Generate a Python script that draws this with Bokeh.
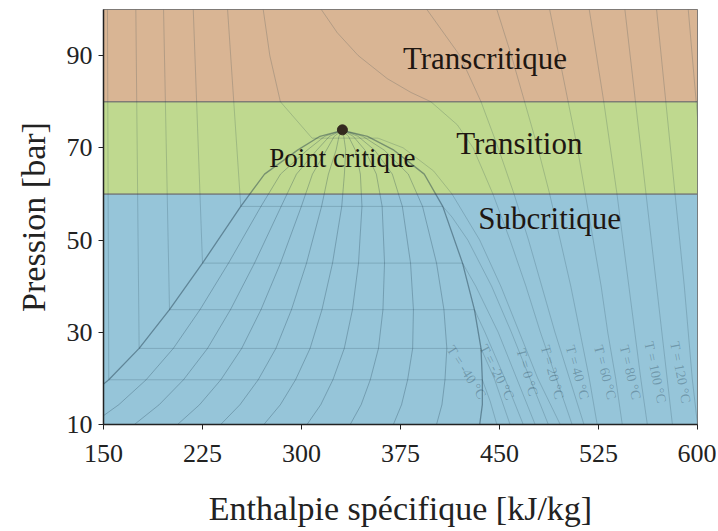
import numpy as np
from bokeh.plotting import figure
from bokeh.models import FixedTicker, ColumnDataSource
from bokeh.core.properties import value
from bokeh.embed import file_html
from bokeh.resources import INLINE

# ---------------- data ----------------
x_ticks = [150, 225, 300, 375, 450, 525, 600]
y_ticks = [10, 30, 50, 70, 90]

band_names = ["Subcritique", "Transition", "Transcritique"]
band_bottom = [10, 60, 80]
band_top = [60, 80, 100]
band_colors = ["#96c5d9", "#bfd98f", "#d9b594"]
band_label_h = [488, 465, 439]
band_label_P = [54.6, 70.9, 89.3]

# saturation dome (pressure in bar, enthalpy in kJ/kg)
sat_P = [10.0, 14.3, 19.7, 26.5, 34.9, 45.0, 57.3, 64.3, 69.5, 72.5, 73.8]
sat_hl = [108, 131, 154, 177, 200, 225, 254, 272, 297, 314, 331]
sat_hv = [435, 437, 437, 436, 431, 422, 407, 393, 370, 350, 331]
qualities = [0.1, 0.2, 0.3, 0.4, 0.5, 0.6, 0.7, 0.8, 0.9]

crit_h = [331]
crit_P = [73.9]

# isotherms
iso_T = [-20, -10, 0, 10, 20, 30, 40, 50, 60, 80, 100, 120, 140, 160]
iso_h = [
    [153, 154, 437, 443, 448],
    [174.5, 177, 436, 446, 458],
    [195.5, 200, 431, 439, 454, 468],
    [218, 225, 422, 432, 449, 463, 477],
    [244, 254, 407, 414, 426, 444, 459, 473, 487],
    [271, 276, 284, 308, 358, 377, 400, 414, 435, 451, 465, 479, 496],
    [315, 327, 343, 365, 383, 398, 418, 430, 445, 458, 470, 481, 493, 505],
    [395, 420, 436, 449, 461, 472, 482, 492, 503, 514],
    [448, 459, 469, 479, 488, 496, 504, 511, 518, 524],
    [488, 495, 502, 509, 515, 521, 527, 532, 538, 543],
    [518, 529, 539, 548, 557, 562],
    [545, 553, 561, 569, 577, 581],
    [569, 576, 583, 590, 596, 600],
    [593, 599, 605],
]
iso_P = [
    [100, 19.7, 19.7, 15, 10],
    [100, 26.5, 26.5, 20, 10],
    [100, 34.9, 34.9, 30, 20, 10],
    [100, 45, 45, 40, 30, 20, 10],
    [100, 57.3, 57.3, 55, 50, 40, 30, 20, 10],
    [100, 90, 80, 72.1, 72.1, 70, 65, 60, 50, 40, 30, 20, 10],
    [100, 95, 90, 85, 82, 80, 75, 70, 60, 50, 40, 30, 20, 10],
    [100, 90, 80, 70, 60, 50, 40, 30, 20, 10],
    [100, 90, 80, 70, 60, 50, 40, 30, 20, 10],
    [100, 90, 80, 70, 60, 50, 40, 30, 20, 10],
    [100, 80, 60, 40, 20, 10],
    [100, 80, 60, 40, 20, 10],
    [100, 80, 60, 40, 20, 10],
    [100, 80, 60],
]

label_T = [-40, -20, 0, 20, 40, 60, 80, 100, 120]
label_h = [425, 448, 471, 490, 509, 530, 549, 568, 587]
label_P = [21.3, 21.3, 21.3, 21.3, 21.3, 21.3, 21.3, 21.3, 21.3]

# ---------------- figure ----------------
p = figure(width=716, height=529, x_range=(150, 600), y_range=(10, 100),
           output_backend="svg", toolbar_location=None,
           min_border_left=103, min_border_right=19, min_border_top=9,
           min_border_bottom=105)
p.background_fill_color = "white"
p.border_fill_color = "white"
p.outline_line_color = "#777777"
p.outline_line_width = 1
p.xgrid.visible = False
p.ygrid.visible = False

# bands
p.quad(left=150, right=600, bottom=band_bottom, top=band_top,
       fill_color=band_colors, fill_alpha=1.0, line_color="#6f6f6f", line_width=1)

line_col = "#1e3a4a"

# isotherms
p.multi_line(xs=iso_h, ys=iso_P, line_color=line_col, line_alpha=0.2, line_width=1)

# quality lines inside the dome
hl = np.array(sat_hl, dtype=float)
hv = np.array(sat_hv, dtype=float)
q_xs = [list(hl + q * (hv - hl)) for q in qualities]
q_ys = [list(sat_P) for _ in qualities]
p.multi_line(xs=q_xs, ys=q_ys, line_color=line_col, line_alpha=0.28, line_width=1)

# saturation dome
p.line(x=sat_hl + sat_hv[::-1], y=sat_P + sat_P[::-1], line_color=line_col,
       line_alpha=0.45, line_width=1.3)

# isotherm labels
lab_angles = [-1.0, -1.1, -1.3, -1.3, -1.3, -1.32, -1.34, -1.36, -1.38]
lab_src = ColumnDataSource(dict(
    x=label_h, y=label_P,
    t=["T = %d °C" % t for t in label_T],
    a=lab_angles))
p.text(x="x", y="y", text="t", angle="a", source=lab_src,
       text_font=value("Liberation Serif"), text_font_size="14px",
       text_color=line_col, text_alpha=0.33, text_align="center",
       text_baseline="middle")

# critical point
p.scatter(x=crit_h, y=crit_P, size=10, color="#33291f")
p.text(x=crit_h, y=[67.9], text=["Point critique"],
       text_font=value("Liberation Serif"), text_font_size="27px",
       text_color="#1a1410", text_align="center", text_baseline="middle")

# band labels
p.text(x=band_label_h, y=band_label_P, text=band_names,
       text_font=value("Liberation Serif"), text_font_size="31px",
       text_color="#1f1712", text_align="center", text_baseline="middle")

# axes
p.xaxis.ticker = FixedTicker(ticks=x_ticks)
p.yaxis.ticker = FixedTicker(ticks=y_ticks)
p.xaxis.minor_tick_line_color = None
p.yaxis.minor_tick_line_color = None
for ax in (p.xaxis[0], p.yaxis[0]):
    ax.axis_line_color = "#222222"
    ax.axis_line_width = 1.5
    ax.major_tick_line_color = "#222222"
    ax.major_tick_out = 5
    ax.major_tick_in = 0
    ax.major_label_text_font = "Liberation Serif"
    ax.major_label_text_font_size = "26px"
    ax.major_label_text_color = "#222222"
    ax.axis_label_text_font = "Liberation Serif"
    ax.axis_label_text_font_size = "34px"
    ax.axis_label_text_font_style = "normal"
    ax.axis_label_text_color = "#222222"

p.xaxis.axis_label = "Enthalpie spécifique [kJ/kg]"
p.yaxis.axis_label = "Pression [bar]"
p.xaxis.major_label_standoff = 15
p.xaxis.axis_label_standoff = 25
p.yaxis.major_label_standoff = 6
p.yaxis.axis_label_standoff = 12

open("out.html", "w").write(file_html(p, INLINE))
